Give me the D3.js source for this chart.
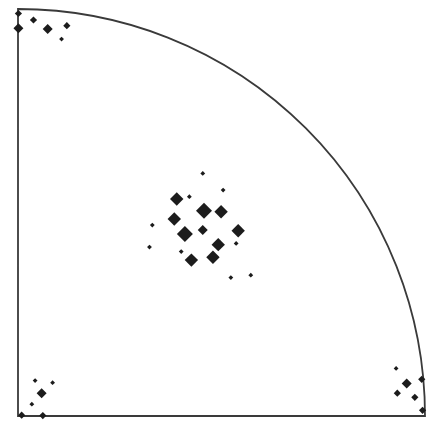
<!DOCTYPE html>
<html><head><meta charset="utf-8">
<script src="https://cdn.jsdelivr.net/npm/d3@7"></script>
<style>html,body{margin:0;padding:0;background:#fff;}svg{display:block;}</style>
</head><body>
<script>
// point positions in unit quarter-circle coordinates, size class 1..5
const xs = [0.454,0.390,0.421,0.504,0.457,0.499,0.384,0.330,0.410,0.454,0.541,0.492,0.536,0.323,0.401,0.426,0.479,0.523,0.572,
            0.001,0.001,0.038,0.073,0.120,0.107,
            0.042,0.085,0.058,0.034,0.009,0.061,
            0.929,0.955,0.992,0.932,0.975,0.994];
const ys = [0.596,0.533,0.539,0.555,0.504,0.502,0.484,0.469,0.447,0.457,0.455,0.421,0.424,0.415,0.404,0.383,0.390,0.340,0.346,
            0.989,0.953,0.973,0.951,0.959,0.926,
            0.087,0.082,0.056,0.029,0.002,0.001,
            0.117,0.080,0.090,0.056,0.046,0.014];
const sizes = [1,4,1,1,5,4,4,1,5,3,4,4,1,1,1,4,4,1,1,
               2,3,2,3,2,1,
               1,1,3,1,2,2,
               1,3,2,2,2,2];
const sizeClasses = [1,2,3,4,5];

const W = 444, H = 429;
const svg = d3.select("body").append("svg").attr("width", W).attr("height", H);

const x = d3.scaleLinear().domain([0,1]).range([18,425]);
const y = d3.scaleLinear().domain([0,1]).range([416,9]);
const half = d3.scaleOrdinal().domain(sizeClasses).range([2.4,3.6,5,6.7,8]);

const R = x(1) - x(0);
const arc = d3.arc().innerRadius(0).outerRadius(R).startAngle(0).endAngle(Math.PI/2);
svg.append("path")
  .attr("transform", `translate(${x(0)},${y(0)})`)
  .attr("d", arc())
  .attr("fill", "none")
  .attr("stroke", "#3a3a3a")
  .attr("stroke-width", 1.8);

const pts = xs.map((v,i) => ({x: v, y: ys[i], s: sizes[i]}));
svg.append("g").selectAll("path").data(pts).join("path")
  .attr("transform", d => `translate(${x(d.x)},${y(d.y)}) rotate(45)`)
  .attr("d", d => d3.symbol(d3.symbolSquare, 2*half(d.s)*half(d.s))())
  .attr("fill", "#1c1c1c");
</script>
</body></html>
